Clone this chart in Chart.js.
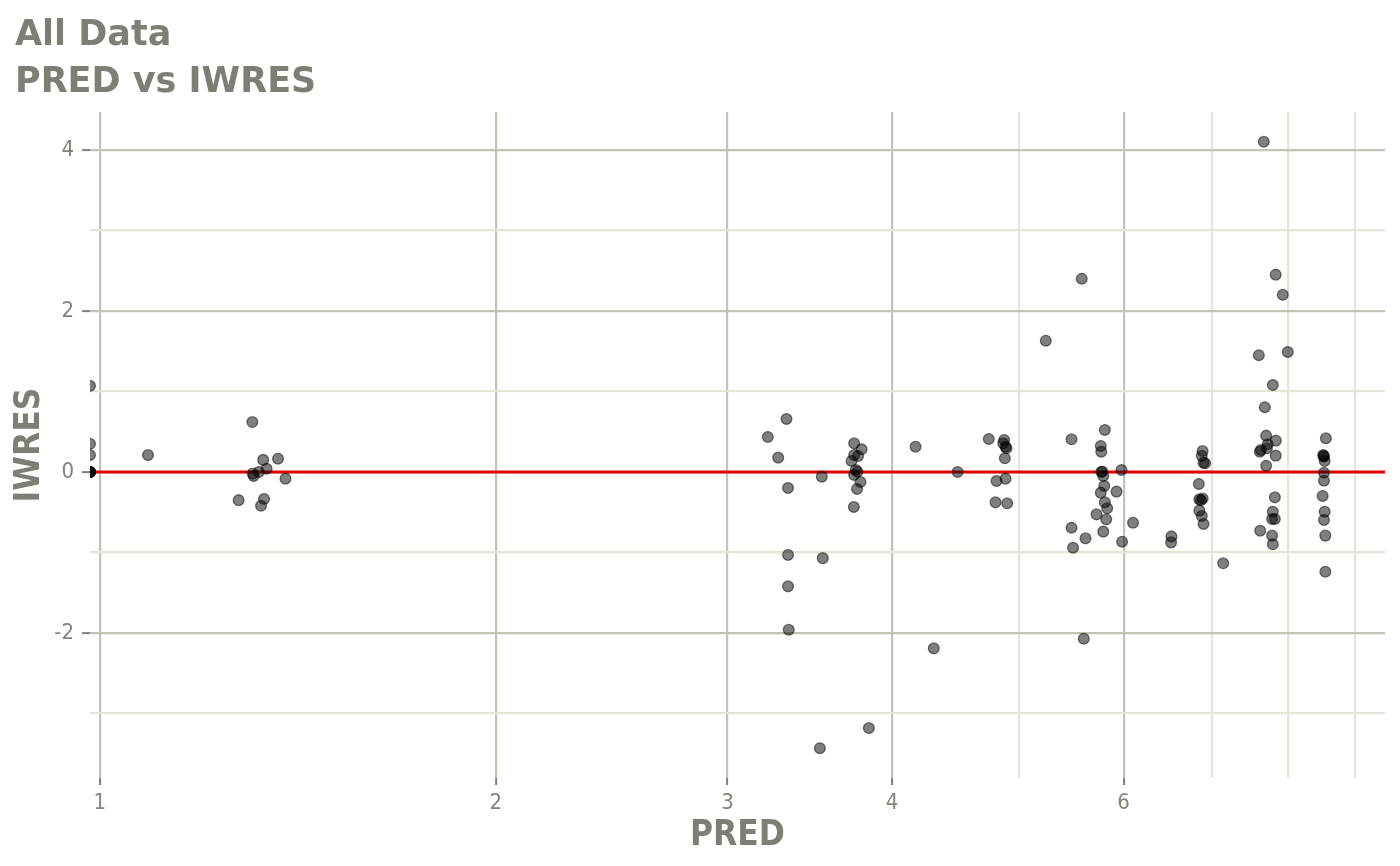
<!DOCTYPE html>
<html>
<head>
<meta charset="utf-8">
<script src="https://cdn.jsdelivr.net/npm/chart.js@4"></script>
<style>
  html, body { margin: 0; padding: 0; background: #fff; }
  #wrap { width: 1400px; height: 866px; }
</style>
</head>
<body>
<div id="wrap"><canvas id="chartPredIwres"></canvas></div>
<script>
// PRED vs IWRES
const predVals = [
  0.983, 0.983, 0.983, 0.983, 0.983, 0.983, 0.983, 0.983,
  1.088, 1.306, 1.275, 1.326, 1.333, 1.331, 1.366, 1.384, 1.307, 1.309, 1.321, 1.339,
  3.326, 3.219, 3.278, 3.335, 3.538, 3.744, 3.793, 3.770, 3.744, 3.727, 3.755, 3.765, 3.744, 3.786, 3.763, 3.742,
  4.169, 4.487, 4.739, 4.868, 4.860, 4.880, 4.888, 4.874, 4.880, 4.803, 4.795, 4.894,
  3.526, 3.842, 4.304, 3.339, 3.335, 3.335, 3.544,
  5.477, 5.806, 5.765, 5.770, 5.770, 5.780, 5.790, 5.978, 5.800, 5.765, 5.926, 5.806, 5.830, 5.722, 5.820, 6.100,
  5.477, 5.790, 5.613, 5.984, 5.492, 5.576, 5.596, 5.236,
  6.889, 6.880, 6.900, 6.920, 6.844, 6.850, 6.870, 6.890, 6.850, 6.880, 6.900, 6.524, 6.520, 7.142,
  7.682, 7.700, 7.831, 7.720, 7.710, 7.615, 7.630, 7.830, 7.700, 7.818, 7.790, 7.780, 7.818, 7.620, 7.780, 7.790,
  7.668, 7.830, 7.927, 7.997, 7.602, 7.790,
  8.548, 8.508, 8.520, 8.515, 8.530, 8.520, 8.520, 8.500, 8.530, 8.520, 8.540, 8.540
];
const iwresVals = [
  1.07, 0.35, 0.21, 0, 0, 0, 0, 0,
  0.21, 0.62, -0.35, -0.42, -0.335, 0.15, 0.165, -0.083, -0.02, -0.05, 0.0, 0.04,
  0.658, 0.435, 0.178, -0.199, -0.058, 0.356, 0.282, 0.199, 0.211, 0.137, 0.025, 0.004, -0.037, -0.124, -0.211, -0.435,
  0.314, 0.0, 0.41, 0.398, 0.356, 0.314, 0.294, 0.170, -0.083, -0.112, -0.377, -0.389,
  -3.43, -3.18, -2.19, -1.96, -1.42, -1.03, -1.07,
  0.406, 0.522, 0.323, 0.252, 0.0, 0.005, -0.05, 0.025, -0.174, -0.257, -0.244, -0.377, -0.451, -0.526, -0.588, -0.63,
  -0.692, -0.741, -0.824, -0.866, -0.94, 2.40, -2.07, 1.63,
  0.26, 0.2, 0.116, 0.108, -0.149, -0.34, -0.35, -0.33, -0.48, -0.547, -0.646, -0.80, -0.874, -1.134,
  0.804, 0.451, 0.389, 0.344, 0.294, 0.252, 0.273, 0.203, 0.078, -0.315, -0.493, -0.584, -0.584, -0.729, -0.79, -0.898,
  4.10, 2.45, 2.20, 1.49, 1.45, 1.08,
  0.418, 0.211, 0.19, 0.2, 0.137, -0.01, -0.108, -0.298, -0.493, -0.596, -0.79, -1.238
];

const xTicks = [1, 2, 3, 4, 5, 6, 7, 8, 9];
const xLabelled = [1, 2, 3, 4, 6];
const yTicks = [-3, -2, -1, 0, 1, 2, 3, 4];
const yLabelled = [-2, 0, 2, 4];
const xRange = [0.983, 9.48];
const yRange = [-3.8, 4.47];
const titleLines = ['All Data', 'PRED vs IWRES'];

const corTitulo = '#7e7e74';
const corTick = '#84847a';
const gridMaior = '#c2c2b5';
const gridMenor = '#e4e4d7';
const fonteCond = "'DejaVu Sans Condensed', 'DejaVu Sans', sans-serif";

const pontos = predVals.map((x, i) => ({ x, y: iwresVals[i] }));
const linhaZero = [{ x: xRange[0], y: 0 }, { x: xRange[1], y: 0 }];

const tituloPlugin = {
  id: 'tituloPlugin',
  afterDraw(chart) {
    const ctx = chart.ctx;
    ctx.save();
    ctx.fillStyle = corTitulo;
    ctx.font = "bold 35px 'DejaVu Sans', sans-serif";
    ctx.textBaseline = 'alphabetic';
    ctx.textAlign = 'left';
    ctx.fillText(titleLines[0], 15, 45);
    ctx.fillText(titleLines[1], 15, 92);
    ctx.restore();
  }
};

function setTicks(values) {
  return scale => { scale.ticks = values.map(v => ({ value: v })); };
}

new Chart(document.getElementById('chartPredIwres'), {
  type: 'scatter',
  data: {
    datasets: [
      {
        label: 'zero',
        type: 'line',
        data: linhaZero,
        borderColor: '#e00000',
        borderWidth: 2.8,
        pointRadius: 0,
        fill: false,
        order: 2
      },
      {
        label: 'IWRES',
        data: pontos,
        backgroundColor: 'rgba(0,0,0,0.5)',
        borderColor: 'rgba(0,0,0,0.5)',
        borderWidth: 1.3,
        pointRadius: 5.4,
        clip: 0,
        order: 1
      }
    ]
  },
  options: {
    responsive: true,
    maintainAspectRatio: false,
    animation: false,
    events: [],
    layout: { padding: { top: 112, right: 15, left: 0, bottom: 0 } },
    plugins: { legend: { display: false }, tooltip: { enabled: false }, title: { display: false } },
    scales: {
      x: {
        type: 'logarithmic',
        min: xRange[0],
        max: xRange[1],
        afterBuildTicks: setTicks(xTicks),
        afterFit: s => { s.height = 88; },
        border: { display: false },
        grid: {
          color: c => xLabelled.includes(c.tick.value) ? gridMaior : gridMenor,
          lineWidth: 2.2,
          tickLength: 7,
          tickColor: c => xLabelled.includes(c.tick.value) ? '#7f7f7f' : 'rgba(0,0,0,0)',
          tickWidth: 2
        },
        ticks: {
          autoSkip: false,
          maxRotation: 0,
          padding: 5,
          color: corTick,
          font: { family: fonteCond, size: 22 },
          callback: v => xLabelled.includes(v) ? String(v) : ''
        },
        title: {
          display: true,
          text: 'PRED',
          color: corTitulo,
          font: { family: fonteCond, size: 35, weight: 'bold' },
          padding: { top: 0, bottom: 9 }
        }
      },
      y: {
        type: 'linear',
        min: yRange[0],
        max: yRange[1],
        afterBuildTicks: setTicks(yTicks),
        afterFit: s => { s.width = 90; },
        border: { display: false },
        grid: {
          color: c => yLabelled.includes(c.tick.value) ? gridMaior : gridMenor,
          lineWidth: 2.2,
          tickLength: 8,
          tickColor: c => yLabelled.includes(c.tick.value) ? '#7f7f7f' : 'rgba(0,0,0,0)',
          tickWidth: 2
        },
        ticks: {
          autoSkip: false,
          padding: 8,
          color: corTick,
          font: { family: fonteCond, size: 22 },
          callback: v => yLabelled.includes(v) ? String(v) : ''
        },
        title: {
          display: true,
          text: 'IWRES',
          color: corTitulo,
          font: { family: fonteCond, size: 35, weight: 'bold' },
          padding: { top: 9, bottom: 0 }
        }
      }
    }
  },
  plugins: [tituloPlugin]
});
</script>
</body>
</html>
